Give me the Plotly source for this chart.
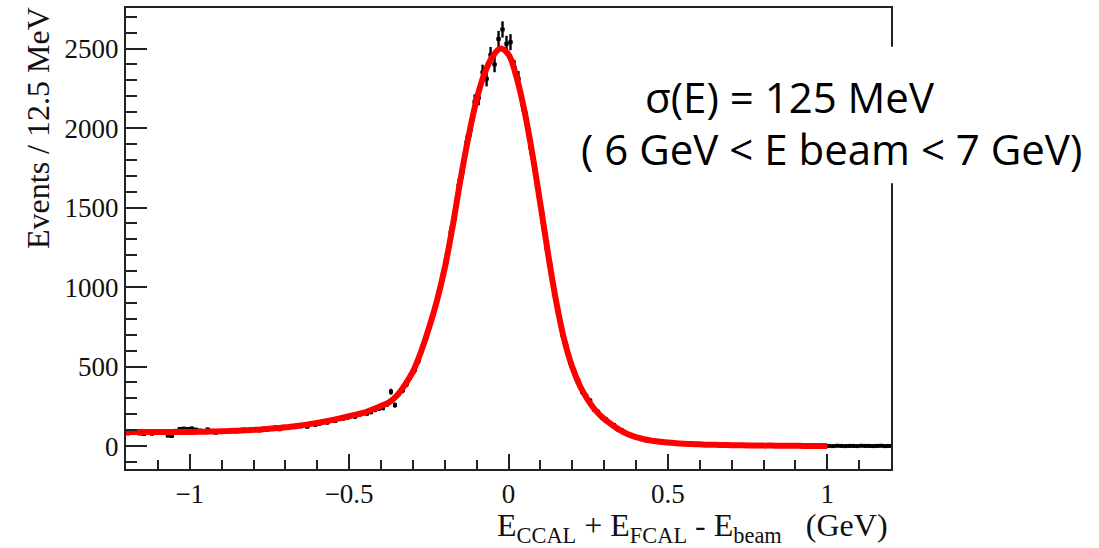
import numpy as np
import plotly.graph_objects as go

# Histogram binning: 12.5 MeV bins over [-1.2, 1.2] GeV
x_min = -1.2
bin_width = 0.0125

# Event counts per bin (192 bins)
counts = [
    80, 84, 92, 79, 76, 85, 78, 87, 90, 83, 66, 64, 96, 108, 110, 107,
    111, 104, 98, 92, 105, 96, 84, 95, 90, 97, 98, 92, 101, 104, 96, 105,
    108, 99, 110, 104, 112, 118, 106, 121, 116, 127, 119, 125, 131, 122, 140, 134,
    141, 156, 148, 163, 159, 171, 174, 178, 190, 185, 196, 208, 205, 214, 228, 236,
    240, 262, 342, 258, 330, 352, 392, 440, 480, 540, 630, 688, 785, 860, 950, 1075,
    1160, 1345, 1430, 1640, 1725, 1910, 1990, 2165, 2190, 2350, 2310, 2460, 2400, 2560, 2620, 2530,
    2540, 2380, 2310, 2150, 2060, 1880, 1770, 1580, 1460, 1250, 1140, 960, 850, 700, 630, 525,
    470, 410, 340, 315, 285, 230, 215, 180, 168, 140, 132, 105, 98, 82, 70, 58,
    55, 44, 43, 33, 35, 30, 22, 26, 19, 22, 15, 18, 13, 16, 11, 14,
    10, 12, 7, 10, 8, 6, 8, 5, 7, 4, 6, 5, 3, 5, 4, 3,
    4, 2, 3, 2, 3, 1, 2, 3, 1, 2, 2, 1, 1, 2, 0, 1,
    1, 0, 2, 1, 0, 1, 1, 0, 2, 1, 1, 0, 1, 2, 0, 1,
]

# Fit function sampled every 25 MeV from -1.2 to 1.0 GeV
fit_x = [
    -1.2, -1.175, -1.15, -1.125, -1.1, -1.075, -1.05, -1.025, -1.0, -0.975,
    -0.95, -0.925, -0.9, -0.875, -0.85, -0.825, -0.8, -0.775, -0.75, -0.725,
    -0.7, -0.675, -0.65, -0.625, -0.6, -0.575, -0.55, -0.525, -0.5, -0.475,
    -0.45, -0.425, -0.4, -0.375, -0.35, -0.325, -0.3, -0.275, -0.25, -0.225,
    -0.2, -0.175, -0.15, -0.125, -0.1, -0.075, -0.05, -0.025, 0.0, 0.025,
    0.05, 0.075, 0.1, 0.125, 0.15, 0.175, 0.2, 0.225, 0.25, 0.275,
    0.3, 0.325, 0.35, 0.375, 0.4, 0.425, 0.45, 0.475, 0.5, 0.525,
    0.55, 0.575, 0.6, 0.625, 0.65, 0.675, 0.7, 0.725, 0.75, 0.775,
    0.8, 0.825, 0.85, 0.875, 0.9, 0.925, 0.95, 0.975, 1.0,
]
fit_y = [
    88, 88, 88, 88, 88, 88, 88, 89, 89, 90,
    91, 92, 93, 95, 97, 99, 102, 105, 109, 113,
    118, 124, 130, 138, 146, 155, 165, 176, 188, 200,
    212, 232, 252, 275, 318, 385, 468, 590, 740, 911,
    1120, 1385, 1683, 1950, 2180, 2345, 2450, 2500, 2462, 2322,
    2108, 1836, 1522, 1198, 905, 668, 497, 375, 288, 220,
    171, 134, 100, 74, 56, 43, 34, 27, 22, 18,
    15, 13, 11, 9, 8, 7, 6, 5, 4, 4,
    3, 3, 2, 2, 2, 1, 1, 1, 1,
]

x_range = [-1.2, 1.2]
y_range = [-144, 2755]

centers = x_min + bin_width * (np.arange(len(counts)) + 0.5)
errors = np.sqrt(np.array(counts, dtype=float))

# Figure geometry (pixels)
W, H = 1099, 548
ML, MR, MT, MB = 126, 208, 6, 79
PW, PH = W - ML - MR, H - MT - MB


def px_to_paper_x(px):
    return (px - ML) / PW


def py_to_paper_y(py):
    return (H - MB - py) / PH


fig = go.Figure()

fig.add_trace(go.Scatter(
    x=centers, y=counts, mode="markers",
    marker=dict(color="black", size=4, symbol="square"),
    error_x=dict(type="constant", value=bin_width / 2, color="black", thickness=2.6, width=0),
    error_y=dict(type="data", array=errors, color="black", thickness=2.4, width=0),
    showlegend=False, hoverinfo="skip",
))

fig.add_trace(go.Scatter(
    x=fit_x, y=fit_y, mode="lines",
    line=dict(color="#ff0000", width=6, shape="spline"),
    showlegend=False, hoverinfo="skip",
))

serif = "Liberation Serif, Times New Roman, serif"
axis_common = dict(
    showgrid=False, zeroline=False,
    showline=True, linecolor="#222222", linewidth=2, mirror=True,
    ticks="inside", tickcolor="#222222", tickwidth=1.6,
    tickfont=dict(family=serif, size=27, color="#111111"),
)

fig.update_xaxes(
    range=x_range, tickmode="linear", tick0=0, dtick=0.5, ticklen=15,
    minor=dict(dtick=0.1, ticks="inside", ticklen=9, tickcolor="#222222", tickwidth=1.6),
    **axis_common,
)
fig.update_yaxes(
    range=y_range, tickmode="linear", tick0=0, dtick=500, ticklen=21,
    minor=dict(dtick=100, ticks="inside", ticklen=11, tickcolor="#222222", tickwidth=1.6),
    **axis_common,
)

# Axis titles
fig.add_annotation(
    text="E<sub>CCAL</sub> + E<sub>FCAL</sub> - E<sub>beam</sub>&nbsp;&nbsp;&nbsp;(GeV)",
    xref="paper", yref="paper", x=px_to_paper_x(890), y=py_to_paper_y(528),
    xanchor="right", yanchor="middle", showarrow=False,
    font=dict(family=serif, size=32, color="#111111"),
)
fig.add_annotation(
    text="Events / 12.5 MeV", textangle=-90,
    xref="paper", yref="paper", x=px_to_paper_x(38), y=py_to_paper_y(3),
    xanchor="center", yanchor="top", showarrow=False,
    font=dict(family=serif, size=32, color="#111111"),
)

# Resolution label on a white panel
fig.add_shape(
    type="rect", xref="paper", yref="paper",
    x0=px_to_paper_x(572), x1=px_to_paper_x(1099),
    y0=py_to_paper_y(182), y1=py_to_paper_y(45),
    fillcolor="white", line=dict(width=0), layer="above",
)
sans = "Open Sans, Noto Sans, sans-serif"
fig.add_annotation(
    text="σ(E) = 125 MeV",
    xref="paper", yref="paper", x=px_to_paper_x(643), y=py_to_paper_y(95),
    xanchor="left", yanchor="middle", showarrow=False,
    font=dict(family=sans, size=42, color="black"),
)
fig.add_annotation(
    text="( 6 GeV &lt; E beam &lt; 7 GeV)",
    xref="paper", yref="paper", x=px_to_paper_x(579), y=py_to_paper_y(147),
    xanchor="left", yanchor="middle", showarrow=False,
    font=dict(family=sans, size=42, color="black"),
)

fig.update_layout(
    width=W, height=H,
    margin=dict(l=ML, r=MR, t=MT, b=MB),
    paper_bgcolor="white", plot_bgcolor="white",
)

fig.write_html("out.html")
